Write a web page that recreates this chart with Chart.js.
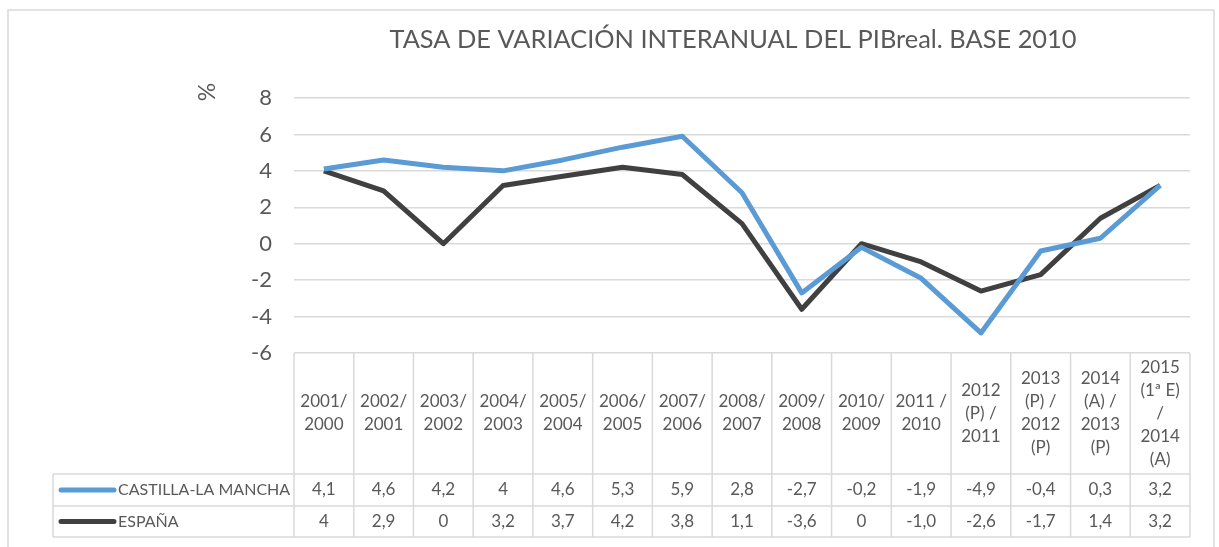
<!DOCTYPE html>
<html lang="es">
<head>
  <meta charset="UTF-8">
  <title>Tasa de variación interanual del PIB real</title>
  <script src="https://cdn.jsdelivr.net/npm/chart.js"></script>
  <style>
    body { margin: 0; background: #fff; }
    #wrap { width: 1219px; height: 547px; }
  </style>
</head>
<body>
  <div id="wrap">
    <canvas id="pibChart" width="1219" height="547"></canvas>
  </div>

  <script>
    // categorías (etiquetas de columna de la tabla de datos)
    const categories = [
      ['2001/', '2000'], ['2002/', '2001'], ['2003/', '2002'], ['2004/', '2003'],
      ['2005/', '2004'], ['2006/', '2005'], ['2007/', '2006'], ['2008/', '2007'],
      ['2009/', '2008'], ['2010/', '2009'], ['2011 /', '2010'],
      ['2012', '(P) /', '2011'],
      ['2013', '(P) /', '2012', '(P)'],
      ['2014', '(A) /', '2013', '(P)'],
      ['2015', '(1ª E)', '/', '2014', '(A)']
    ];

    const castillaValues = [4.1, 4.6, 4.2, 4, 4.6, 5.3, 5.9, 2.8, -2.7, -0.2, -1.9, -4.9, -0.4, 0.3, 3.2];
    const espanaValues   = [4, 2.9, 0, 3.2, 3.7, 4.2, 3.8, 1.1, -3.6, 0, -1.0, -2.6, -1.7, 1.4, 3.2];

    // textos tal como aparecen en la tabla
    const castillaLabels = ['4,1', '4,6', '4,2', '4', '4,6', '5,3', '5,9', '2,8', '-2,7', '-0,2', '-1,9', '-4,9', '-0,4', '0,3', '3,2'];
    const espanaLabels   = ['4', '2,9', '0', '3,2', '3,7', '4,2', '3,8', '1,1', '-3,6', '0', '-1,0', '-2,6', '-1,7', '1,4', '3,2'];

    const yTicks = [-6, -4, -2, 0, 2, 4, 6, 8];

    const titleText = 'TASA DE VARIACIÓN INTERANUAL DEL PIBreal. BASE 2010';
    const textColor = '#595959';
    const gridColor = '#d9d9d9';
    const fontName = 'Lato';

    // dibuja título, borde exterior y la tabla de datos bajo el eje
    const tablePlugin = {
      id: 'dataTable',
      afterDraw(chart) {
        const { ctx, chartArea: a, scales: { x } } = chart;
        const n = categories.length;
        const colW = (a.right - a.left) / n;
        const headBottom = 474, row1 = 506, row2 = 537, legLeft = 53;

        ctx.save();
        ctx.strokeStyle = gridColor;
        ctx.lineWidth = 1.5;

        // borde del gráfico
        ctx.strokeRect(8, 10, 1206, 560);

        // líneas de la tabla
        ctx.beginPath();
        for (let i = 0; i <= n; i++) {
          const xx = a.left + i * colW;
          ctx.moveTo(xx, a.bottom);
          ctx.lineTo(xx, row2);
        }
        [headBottom, row1, row2].forEach(yy => {
          ctx.moveTo(legLeft, yy);
          ctx.lineTo(a.right, yy);
        });
        ctx.moveTo(legLeft, headBottom);
        ctx.lineTo(legLeft, row2);
        ctx.stroke();

        // cabeceras
        ctx.fillStyle = textColor;
        ctx.font = '17px ' + fontName;
        ctx.textAlign = 'center';
        ctx.textBaseline = 'middle';
        const lh = 23;
        categories.forEach((lines, i) => {
          const cx = x.getPixelForValue(i);
          const start = (a.bottom + headBottom) / 2 - (lines.length - 1) * lh / 2;
          lines.forEach((t, k) => ctx.fillText(t, cx, start + k * lh));
        });

        // filas de valores con su leyenda
        const rows = [
          { name: 'CASTILLA-LA MANCHA', color: '#5b9bd5', labels: castillaLabels, top: headBottom, bottom: row1 },
          { name: 'ESPAÑA', color: '#404040', labels: espanaLabels, top: row1, bottom: row2 }
        ];
        rows.forEach(r => {
          const cy = (r.top + r.bottom) / 2;
          ctx.strokeStyle = r.color;
          ctx.lineWidth = 5;
          ctx.lineCap = 'round';
          ctx.beginPath();
          ctx.moveTo(61, cy);
          ctx.lineTo(114, cy);
          ctx.stroke();
          ctx.fillStyle = textColor;
          ctx.textAlign = 'left';
          ctx.font = '16px ' + fontName;
          ctx.fillText(r.name, 118, cy);
          ctx.font = '17px ' + fontName;
          ctx.textAlign = 'center';
          r.labels.forEach((t, i) => ctx.fillText(t, x.getPixelForValue(i), cy));
        });

        // título
        ctx.font = '25.4px ' + fontName;
        ctx.textAlign = 'center';
        ctx.textBaseline = 'alphabetic';
        ctx.fillText(titleText, 733, 48);

        // etiqueta del eje
        ctx.translate(208, 92);
        ctx.rotate(-Math.PI / 2);
        ctx.font = '23px ' + fontName;
        ctx.textBaseline = 'middle';
        ctx.fillText('%', 0, 0);
        ctx.restore();
      }
    };

    const ctx = document.getElementById('pibChart').getContext('2d');
    new Chart(ctx, {
      type: 'line',
      data: {
        labels: categories,
        datasets: [
          {
            label: 'CASTILLA-LA MANCHA',
            data: castillaValues,
            borderColor: '#5b9bd5',
            borderWidth: 5,
            pointRadius: 0,
            borderJoinStyle: 'round',
            tension: 0
          },
          {
            label: 'ESPAÑA',
            data: espanaValues,
            borderColor: '#404040',
            borderWidth: 5,
            pointRadius: 0,
            borderJoinStyle: 'round',
            tension: 0
          }
        ]
      },
      options: {
        responsive: false,
        animation: false,
        layout: { padding: { top: 98, right: 29, bottom: 194, left: 0 } },
        plugins: {
          legend: { display: false },
          title: { display: false },
          tooltip: { enabled: false }
        },
        scales: {
          x: {
            type: 'category',
            display: false,
            offset: true
          },
          y: {
            min: -6,
            max: 8,
            afterFit(scale) { scale.width = 294; },
            afterBuildTicks(scale) { scale.ticks = yTicks.map(v => ({ value: v })); },
            border: { display: false },
            grid: { color: gridColor, lineWidth: 1.5, drawTicks: false },
            ticks: {
              color: textColor,
              font: { family: fontName, size: 22 },
              padding: 22
            }
          }
        }
      },
      plugins: [tablePlugin]
    });
  </script>
</body>
</html>
